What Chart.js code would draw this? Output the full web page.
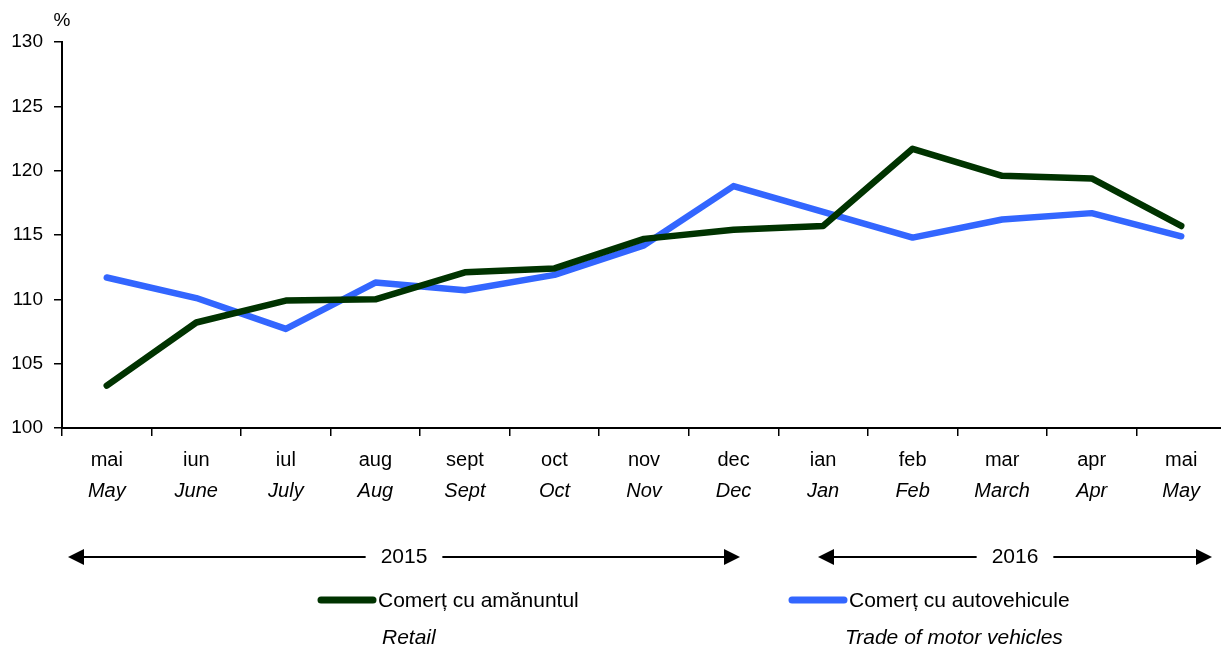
<!DOCTYPE html>
<html>
<head>
<meta charset="utf-8">
<script src="https://cdn.jsdelivr.net/npm/chart.js"></script>
<style>
    html, body { margin: 0; padding: 0; background: #fff; overflow: hidden; }
    #wrap { width: 1228px; height: 648px; }
</style>
</head>
<body>
<div id="wrap"><canvas id="grafic"></canvas></div>
<script>
// date
const luni = ['mai', 'iun', 'iul', 'aug', 'sept', 'oct', 'nov', 'dec', 'ian', 'feb', 'mar', 'apr', 'mai'];
const months = ['May', 'June', 'July', 'Aug', 'Sept', 'Oct', 'Nov', 'Dec', 'Jan', 'Feb', 'March', 'Apr', 'May'];
const comertAmanunt = [103.3, 108.2, 109.9, 110.0, 112.1, 112.4, 114.7, 115.4, 115.7, 121.7, 119.6, 119.4, 115.7];
const comertAuto = [111.7, 110.1, 107.7, 111.3, 110.7, 111.9, 114.2, 118.8, 116.8, 114.8, 116.2, 116.7, 114.9];
const serii = ['Comerț cu amănuntul', 'Comerț cu autovehicule'];
const seriiEn = ['Retail', 'Trade of motor vehicles'];
const ani = ['2015', '2016'];

const FONT = '"Liberation Sans", Arial, sans-serif';
const VERDE = '#003300';
const ALBASTRU = '#3366ff';

function sageata(ctx, x1, x2, y, text) {
    ctx.save();
    ctx.strokeStyle = '#000';
    ctx.fillStyle = '#000';
    ctx.lineWidth = 2;
    ctx.font = '21px ' + FONT;
    const mid = (x1 + x2) / 2;
    const w = ctx.measureText(text).width / 2 + 15;
    ctx.beginPath();
    ctx.moveTo(x1 + 10, y); ctx.lineTo(mid - w, y);
    ctx.moveTo(mid + w, y); ctx.lineTo(x2 - 10, y);
    ctx.stroke();
    // varfuri
    ctx.beginPath();
    ctx.moveTo(x1, y); ctx.lineTo(x1 + 16, y - 8); ctx.lineTo(x1 + 16, y + 8); ctx.closePath();
    ctx.moveTo(x2, y); ctx.lineTo(x2 - 16, y - 8); ctx.lineTo(x2 - 16, y + 8); ctx.closePath();
    ctx.fill();
    ctx.textAlign = 'center';
    ctx.textBaseline = 'middle';
    ctx.fillText(text, mid, y);
    ctx.restore();
}

const extra = {
    id: 'extra',
    afterDraw(chart) {
        const ctx = chart.ctx;
        const x = chart.scales.x;
        ctx.save();
        ctx.fillStyle = '#000';
        ctx.textAlign = 'center';
        ctx.textBaseline = 'middle';
        // etichete luni (ro + en)
        luni.forEach((l, i) => {
            const px = x.getPixelForValue(i);
            ctx.font = '20px ' + FONT;
            ctx.fillText(l, px, 460);
            ctx.font = 'italic 20px ' + FONT;
            ctx.fillText(months[i], px, 491);
        });
        ctx.font = '19px ' + FONT;
        ctx.fillText('%', 62, 21);

        // ani
        sageata(ctx, 68, 740, 557, ani[0]);
        sageata(ctx, 818, 1212, 557, ani[1]);

        // legenda
        const leg = [[318, VERDE, 382], [789, ALBASTRU, 845]];
        leg.forEach(([lx, col, ex], i) => {
            ctx.strokeStyle = col;
            ctx.lineWidth = 7;
            ctx.lineCap = 'round';
            ctx.beginPath();
            ctx.moveTo(lx + 3, 600); ctx.lineTo(lx + 55, 600);
            ctx.stroke();
            ctx.textAlign = 'left';
            ctx.font = '21px ' + FONT;
            ctx.fillText(serii[i], lx + 60, 601);
            ctx.font = 'italic 21px ' + FONT;
            ctx.fillText(seriiEn[i], ex, 638);
        });
        ctx.restore();
    }
};

const ctx = document.getElementById('grafic').getContext('2d');
new Chart(ctx, {
    type: 'line',
    data: {
        labels: luni,
        datasets: [
            { label: serii[0], data: comertAmanunt, borderColor: VERDE, borderWidth: 6.5 },
            { label: serii[1], data: comertAuto, borderColor: ALBASTRU, borderWidth: 6.5 }
        ]
    },
    options: {
        responsive: true,
        maintainAspectRatio: false,
        animation: false,
        elements: {
            point: { radius: 0 },
            line: { tension: 0, borderCapStyle: 'round', borderJoinStyle: 'round' }
        },
        layout: { padding: { top: 42, right: 2, left: 0, bottom: 0 } },
        plugins: { legend: { display: false }, tooltip: { enabled: false } },
        scales: {
            x: {
                offset: true,
                grid: { drawOnChartArea: false, offset: true, tickLength: 8, color: '#000', lineWidth: 1.5 },
                border: { color: '#000', width: 2 },
                ticks: { display: false },
                afterFit: s => { s.height = 220; }
            },
            y: {
                min: 100,
                max: 130,
                ticks: { stepSize: 5, color: '#000', padding: 11, font: { family: FONT, size: 19 } },
                grid: { drawOnChartArea: false, tickLength: 8, color: '#000', lineWidth: 1.5 },
                border: { color: '#000', width: 2 },
                afterFit: s => { s.width = 62; }
            }
        }
    },
    plugins: [extra]
});
</script>
</body>
</html>
